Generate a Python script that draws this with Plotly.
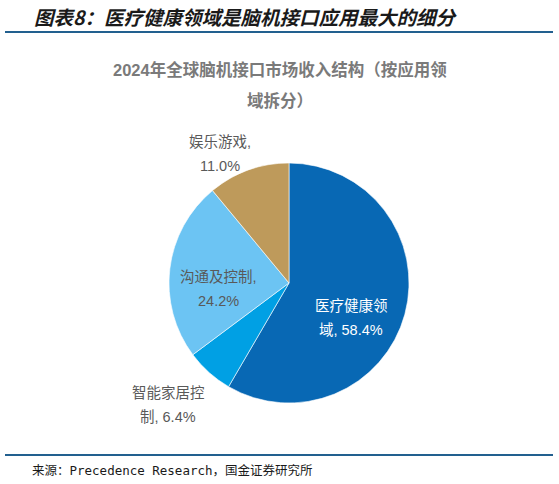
import plotly.graph_objects as go

# Data
categories = ['医疗健康领域', '智能家居控制', '沟通及控制', '娱乐游戏']
shares = [58.4, 6.4, 24.2, 11.0]
slice_colors = ['#0868b4', '#00a0e4', '#6cc4f3', '#be9a5b']

W, H = 559, 484

fig = go.Figure(go.Pie(
    labels=categories,
    values=shares,
    sort=False,
    direction='clockwise',
    rotation=0,
    textinfo='none',
    hoverinfo='label+percent',
    marker=dict(colors=slice_colors, line=dict(color='white', width=0.6)),
    domain=dict(x=[(289 - 120) / W, (289 + 120) / W],
                y=[(H - 283 - 120) / H, (H - 283 + 120) / H]),
    showlegend=False,
))

# label text, wrapped as in the source (two lines)
def wrap(name, val, n=5):
    if len(name) <= n:
        return [name + ',', '%.1f%%' % val]
    full = '%s, %.1f%%' % (name, val)
    return [full[:n], full[n:]]

def px(x, y):
    return x / W, 1 - y / H

label_font = 'Liberation Sans, Noto Sans CJK SC'
label_pos = [(351, 306, 'white'), (168, 393, '#595959'), (218, 277, '#595959'), (220, 142, '#595959')]
annotations = []
for name, val, (lx, ly, col) in zip(categories, shares, label_pos):
    for i, line in enumerate(wrap(name, val)):
        x, y = px(lx, ly + i * 24)
        annotations.append(dict(
            x=x, y=y, xref='paper', yref='paper',
            text=line, showarrow=False,
            font=dict(size=14.5, color=col, family=label_font),
            xanchor='center', yanchor='middle',
        ))

# header, chart title, source
x, y = px(32, 16)
annotations.append(dict(
    x=x, y=y, xref='paper', yref='paper', xanchor='left', yanchor='middle',
    text='<b><i>图表8：医疗健康领域是脑机接口应用最大的细分</i></b>', showarrow=False,
    font=dict(size=19.5, color='#1a1a1a', family='Noto Sans CJK SC')))
for txt, ty in [('2024年全球脑机接口市场收入结构（按应用领', 70), ('域拆分）', 101)]:
    x, y = px(280, ty)
    annotations.append(dict(
        x=x, y=y, xref='paper', yref='paper', xanchor='center', yanchor='middle',
        text='<b>' + txt + '</b>', showarrow=False,
        font=dict(size=16.5, color='#7a7a7a', family='Liberation Sans, Noto Sans CJK SC')))
x, y = px(30, 470)
annotations.append(dict(
    x=x, y=y, xref='paper', yref='paper', xanchor='left', yanchor='middle',
    text='来源：Precedence Research，国金证券研究所', showarrow=False,
    font=dict(size=12.5, color='#1a1a1a', family='DejaVu Sans Mono, Noto Sans CJK SC')))

shapes = []
for ly in (32, 455):
    shapes.append(dict(type='line', xref='paper', yref='paper', x0=5 / W, x1=553 / W,
                       y0=1 - ly / H, y1=1 - ly / H, line=dict(color='#22608f', width=2)))

fig.update_layout(
    width=W, height=H,
    margin=dict(l=0, r=0, t=0, b=0),
    paper_bgcolor='white', plot_bgcolor='white',
    annotations=annotations, shapes=shapes,
)

fig.write_html('out.html', config={'displayModeBar': False},
               post_script="document.body.style.margin='0';")
